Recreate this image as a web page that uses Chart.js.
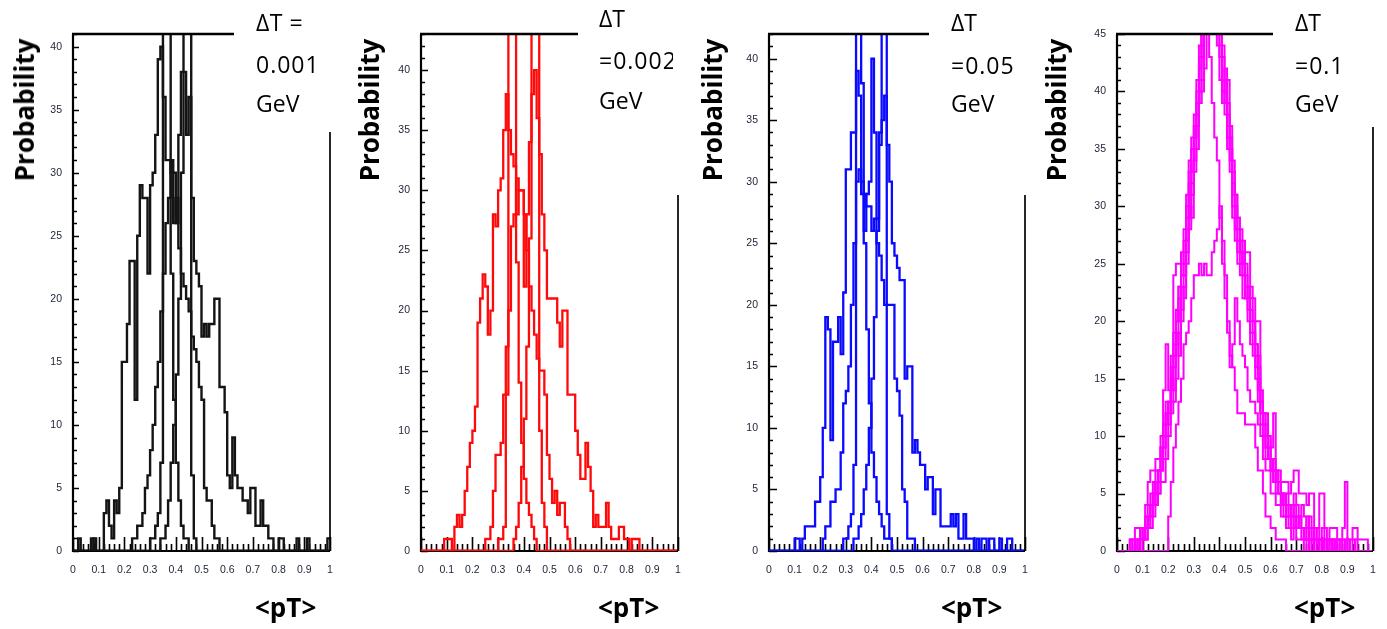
<!DOCTYPE html>
<html>
<head>
<meta charset="utf-8">
<title>&lt;pT&gt; distributions</title>
<script src="https://cdn.jsdelivr.net/npm/chart.js@4.4.1/dist/chart.umd.min.js"></script>
<style>
  html, body { margin:0; padding:0; background:#fff; }
  body { position:relative; width:1387px; height:629px; overflow:hidden; font-family:'Open Sans', sans-serif; }
  canvas { position:absolute; top:0; }
  .ytitle { position:absolute; top:110px; font-weight:700; font-size:26px; line-height:26px; white-space:nowrap;
            transform:translate(-50%,-50%) rotate(-90deg); color:#000; z-index:2; }
  .xtitle { position:absolute; top:589px; font-weight:700; font-size:26px; line-height:36px; white-space:nowrap; color:#000; z-index:2; }
  .note { position:absolute; top:0; height:130px; overflow:hidden; white-space:nowrap; z-index:2; }
  .note div { position:absolute; left:0; font-size:23px; line-height:30px; color:#000; }
</style>
</head>
<body>
<canvas id="c1" width="345" height="629" style="left:0px"></canvas>
<canvas id="c2" width="345" height="629" style="left:345px"></canvas>
<canvas id="c3" width="345" height="629" style="left:690px"></canvas>
<canvas id="c4" width="352" height="629" style="left:1035px"></canvas>

<div class="ytitle" style="left:24px">Probability</div>
<div class="ytitle" style="left:369px">Probability</div>
<div class="ytitle" style="left:712px">Probability</div>
<div class="ytitle" style="left:1056px">Probability</div>

<div class="xtitle" style="left:255px">&lt;pT&gt;</div>
<div class="xtitle" style="left:598px">&lt;pT&gt;</div>
<div class="xtitle" style="left:941px">&lt;pT&gt;</div>
<div class="xtitle" style="left:1294px">&lt;pT&gt;</div>

<div class="note" style="left:256px;width:110px">
  <div style="top:7px;letter-spacing:0.5px">ΔT =</div>
  <div style="top:49px;letter-spacing:1px">0.001</div>
  <div style="top:88px">GeV</div>
</div>
<div class="note" style="left:599px;width:74px">
  <div style="top:3px">ΔT</div>
  <div style="top:45px;letter-spacing:1px">=0.002</div>
  <div style="top:85px">GeV</div>
</div>
<div class="note" style="left:951px;width:90px">
  <div style="top:7px">ΔT</div>
  <div style="top:50px;letter-spacing:1px">=0.05</div>
  <div style="top:88px">GeV</div>
</div>
<div class="note" style="left:1295px;width:90px">
  <div style="top:7px">ΔT</div>
  <div style="top:50px;letter-spacing:1px">=0.1</div>
  <div style="top:88px">GeV</div>
</div>

<script>
// ---------------- data ----------------
const binWidth = 0.01;                       // histogram bin width in <pT>
const xTickLabels = ['0','0.1','0.2','0.3','0.4','0.5','0.6','0.7','0.8','0.9','1'];
const yTickLabels = ['0','5','10','15','20','25','30','35','40','45'];
const deltaT = ['0.001', '0.002', '0.05', '0.1'];
const panelYMax = [41, 43, 42, 45];
const panelColors = ['#141414', '#ff0a0a', '#0a0aff', '#ff00ff'];

// Panel 1 (ΔT = 0.001 GeV), counts per bin, bins 0.00 .. 0.99
const p1WideLeft = [
  0,0,1,0,0,0,0,1,0,0,   0,0,3,4,2,1,4,3,5,15,
  15,18,23,23,12,25,29,28,28,22,  29,30,33,39,40,36,31,31,30,26,
  28,24,22,21,20,19,17,16,15,13,  12,5,4,4,2,1,1,0,0,0,
  0,0,0,0,0,0,0,0,0,0,   0,0,0,0,0,0,0,0,0,0,
  0,0,0,0,0,0,0,0,0,0,   0,0,0,0,0,0,0,0,0,0];
const p1WideRight = [
  0,0,0,0,0,0,0,0,1,0,   0,0,0,0,0,0,0,0,0,0,
  0,0,0,1,1,2,2,3,5,6,   8,10,13,15,19,22,26,28,31,30,
  26,33,38,38,33,36,28,23,22,21,  17,18,17,18,18,20,20,13,13,11,
  6,5,9,6,5,5,4,4,3,5,   5,2,2,4,2,2,1,1,0,0,
  1,1,0,0,0,0,0,1,0,0,   0,1,0,0,0,0,0,0,0,1];
const p1NarrowLeft = [
  0,0,0,0,0,0,0,0,0,0,   0,0,0,0,0,0,0,0,0,0,
  0,0,0,0,0,0,0,0,0,0,   1,1,2,3,7,48,60,50,22,12,
  7,4,2,1,1,0,0,0,0,0,   0,0,0,0,0,0,0,0,0,0,
  0,0,0,0,0,0,0,0,0,0,   0,0,0,0,0,0,0,0,0,0,
  0,0,0,0,0,0,0,0,0,0,   0,0,0,0,0,0,0,0,0,0];
const p1NarrowRight = [
  0,0,0,0,0,0,0,0,0,0,   0,0,0,0,0,0,0,0,0,0,
  0,0,0,0,0,0,0,0,0,0,   0,0,0,0,1,1,2,4,7,10,
  14,20,30,46,58,47,6,1,0,0,  0,0,0,0,0,0,0,0,0,0,
  0,0,0,0,0,0,0,0,0,0,   0,0,0,0,0,0,0,0,0,0,
  0,0,0,0,0,0,0,0,0,0,   0,0,0,0,0,0,0,0,0,0];

// Panel 2 (ΔT = 0.002 GeV)
const p2WideLeft = [
  0,0,0,0,0,0,0,0,0,1,   1,1,0,2,3,2,3,5,7,9,
  10,12,19,21,23,22,18,20,28,27,  30,31,35,38,35,33,32,28,30,30,
  28,25,22,20,18,16,15,15,13,8,   6,4,5,3,4,4,2,1,0,0,
  0,0,0,0,0,0,0,0,0,0,   0,0,0,0,0,0,0,0,0,0,
  0,0,0,0,0,0,0,0,0,0,   0,0,0,0,0,0,0,0,0,0];
const p2WideRight = [
  0,0,0,0,0,0,0,0,0,0,   0,0,0,0,0,0,0,0,0,0,
  0,0,0,0,0,1,1,2,5,8,   8,9,13,17,20,27,28,31,30,30,
  22,28,34,38,40,36,33,28,25,21,  21,21,21,19,17,20,20,13,13,13,
  10,8,6,6,9,7,5,2,3,2,  2,2,4,2,1,1,1,2,2,1,
  1,0,1,1,1,0,0,0,0,0,   0,0,0,0,0,0,0,0,0,0];
const p2NarrowLeft = [
  0,0,0,0,0,0,0,0,0,0,   0,0,0,0,0,0,0,0,0,0,
  0,0,0,0,0,0,0,0,0,0,   1,1,2,13,47,55,48,24,14,9,
  6,4,3,2,1,0,0,0,0,0,   0,0,0,0,0,0,0,0,0,0,
  0,0,0,0,0,0,0,0,0,0,   0,0,0,0,0,0,0,0,0,0,
  0,0,0,0,0,0,0,0,0,0,   0,0,0,0,0,0,0,0,0,0];
const p2NarrowRight = [
  0,0,0,0,0,0,0,0,0,0,   0,0,0,0,0,0,0,0,0,0,
  0,0,0,0,0,0,0,0,0,0,   0,0,0,0,0,0,1,2,4,7,
  11,17,26,46,56,48,10,4,2,0,  0,0,0,0,0,0,0,0,0,0,
  0,0,0,0,0,0,0,0,0,0,   0,0,0,0,0,0,0,0,0,0,
  0,0,0,0,0,0,0,0,0,0,   0,0,0,0,0,0,0,0,0,0];

// Panel 3 (ΔT = 0.05 GeV)
const p3WideLeft = [
  0,0,0,0,0,0,0,0,0,0,   1,1,0,1,2,2,2,2,4,4,
  6,10,19,18,9,17,17,19,16,21,  31,31,34,34,39,37,30,29,28,28,
  26,27,25,24,22,20,20,20,20,14,  13,11,5,4,1,1,1,0,0,0,
  0,0,0,0,0,0,0,0,0,0,   0,0,0,0,0,0,0,0,0,0,
  0,0,0,0,0,0,0,0,0,0,   0,0,0,0,0,0,0,0,0,0];
const p3WideRight = [
  0,0,0,0,0,0,0,0,0,0,   0,0,0,0,0,0,0,0,0,0,
  0,1,2,2,4,4,5,5,8,12,  13,15,20,25,30,31,29,26,29,30,
  40,34,27,34,35,37,33,30,25,24,  23,22,22,14,15,15,8,9,8,7,
  7,5,6,6,3,5,5,2,2,2,   2,3,2,3,1,1,3,1,1,1,
  0,1,0,1,1,0,1,1,0,0,   1,0,0,1,1,0,0,0,0,0];
const p3NarrowLeft = [
  0,0,0,0,0,0,0,0,0,0,   0,0,0,0,0,0,0,0,0,0,
  0,0,0,0,0,0,0,0,0,1,   1,2,3,7,45,55,38,25,18,12,
  8,6,4,3,2,1,1,1,0,0,   0,0,0,0,0,0,0,0,0,0,
  0,0,0,0,0,0,0,0,0,0,   0,0,0,0,0,0,0,0,0,0,
  0,0,0,0,0,0,0,0,0,0,   0,0,0,0,0,0,0,0,0,0];
const p3NarrowRight = [
  0,0,0,0,0,0,0,0,0,0,   0,0,0,0,0,0,0,0,0,0,
  0,0,0,0,0,0,0,0,0,0,   0,0,0,1,1,2,3,5,7,10,
  14,19,26,33,50,48,3,1,0,0,  0,0,0,0,0,0,0,0,0,0,
  0,0,0,0,0,0,0,0,0,0,   0,0,0,0,0,0,0,0,0,0,
  0,0,0,0,0,0,0,0,0,0,   0,0,0,0,0,0,0,0,0,0];

// Panel 4 (ΔT = 0.1 GeV)
const p4SampleA = [
  0,0,0,0,0,1,1,2,2,1,   2,4,6,7,7,8,8,10,14,18,
  14,17,24,25,25,25,28,30,33,36,  38,39,42,47,50,55,52,49,50,47,
  46,41,41,41,37,34,31,29,28,27,  26,26,23,22,20,20,13,12,12,10,
  9,12,7,7,6,6,6,5,6,7,  7,5,5,5,4,5,5,2,2,5,
  5,2,1,2,2,2,1,1,2,6,   1,1,2,2,1,1,1,1,0,0];
const p4SampleB = [
  0,0,0,0,0,0,1,0,1,2,   1,2,3,4,5,5,7,8,9,12,
  13,14,17,20,23,24,25,27,29,33,  35,38,41,44,46,50,48,54,47,49,
  45,44,39,37,34,31,29,28,25,26,  24,22,21,19,18,16,13,11,10,9,
  8,7,6,5,5,4,5,4,3,5,   4,3,4,3,2,3,2,1,2,1,
  2,1,0,1,1,0,1,0,1,0,   1,0,0,1,0,0,0,0,0,0];
const p4SampleC = [
  0,0,0,0,0,0,0,1,0,1,   2,3,2,5,4,7,6,7,8,10,
  12,13,16,18,22,21,24,26,31,32,  36,37,39,41,48,46,53,47,51,46,
  47,40,38,36,35,30,28,26,27,24,  22,23,20,20,16,17,12,12,9,8,
  7,6,7,6,4,5,3,3,4,2,   3,2,2,1,2,1,1,1,0,1,
  0,1,1,0,0,1,0,0,0,0,   0,0,0,0,0,0,0,0,0,0];
const p4SampleD = [
  0,0,0,0,0,1,0,1,1,0,   1,2,4,3,6,4,5,9,11,13,
  11,15,14,19,17,23,22,29,30,29,  33,35,40,43,47,52,46,50,46,44,
  41,39,41,35,33,29,27,25,24,22,  23,20,19,17,15,13,11,10,8,9,
  7,8,6,5,5,3,4,2,3,3,   2,3,1,2,1,1,0,1,1,0,
  1,0,0,0,1,0,0,0,0,0,   0,0,0,0,0,0,0,0,0,0];
const p4SampleE = [
  0,0,0,0,0,0,0,0,0,0,   0,0,0,0,0,0,0,0,0,0,
  3,6,9,11,13,15,18,19,20,22,  24,24,25,24,25,24,24,26,27,28,
  30,25,22,19,16,18,22,20,18,17,  16,14,13,13,12,11,10,8,7,7,
  5,5,4,4,3,3,2,2,1,2,   1,1,1,0,1,0,1,0,0,0,
  0,0,0,0,0,0,0,0,0,0,   0,0,0,0,0,0,0,0,0,0];
const p4SampleF = [
  0,0,0,0,0,0,0,0,0,1,   1,1,2,2,3,4,5,6,6,8,
  10,12,13,15,19,20,23,25,28,31,  34,37,39,40,42,45,43,39,36,34,
  29,27,24,20,17,16,14,12,12,12,  11,11,11,11,9,7,7,5,3,3,
  2,2,1,1,1,1,0,0,0,0,   0,0,0,0,0,0,0,0,0,0,
  0,0,0,0,0,0,0,0,0,0,   0,0,0,0,0,0,0,0,0,0];
const p4SampleG = [
  0,0,0,0,0,0,0,0,1,1,   1,2,2,3,5,6,7,7,9,11,
  12,14,18,21,20,24,27,28,32,35,  37,40,44,49,52,48,56,51,48,52,
  44,43,40,38,36,33,30,29,27,25,  25,23,22,20,18,15,14,12,11,10,
  8,7,7,6,5,4,4,3,3,4,   3,3,2,2,3,2,1,2,1,1,
  1,1,1,0,1,0,0,1,0,0,   0,0,1,0,0,0,0,0,0,0];
const p4SampleH = [
  0,0,0,0,0,0,0,0,0,0,   1,1,3,4,4,6,7,9,10,12,
  13,16,19,20,23,26,26,31,34,33,  36,41,43,46,45,51,49,56,53,47,
  43,41,42,39,35,32,31,27,26,24,  22,21,18,18,17,14,12,11,9,8,
  7,6,5,5,4,4,3,3,2,3,   2,2,2,1,1,2,1,1,0,1,
  1,0,1,1,0,0,0,0,0,1,   0,0,0,0,0,0,0,0,0,0];

// ---------------- drawing ----------------
const tickColor = '#1c2236';
const tickFont = { family: "'Liberation Sans', Arial, sans-serif", size: 10.5 };

// ROOT-style frame: inward tick marks, axes, partial top/right border
const rootFrame = {
  id: 'rootFrame',
  beforeDatasetsDraw(chart, args, o) {
    const { ctx, chartArea: a, scales } = chart;
    const xs = scales.x, ys = scales.y;
    ctx.save();
    ctx.strokeStyle = '#000';
    ctx.lineWidth = 1.6;
    ctx.beginPath();
    for (let k = 0; k <= 50; k++) {
      const px = Math.round(xs.getPixelForValue(k * 0.02)) + 0.5;
      const len = (k % 5 === 0) ? o.xMajor : o.xMinor;
      ctx.moveTo(px, a.bottom);
      ctx.lineTo(px, a.bottom - len);
    }
    for (let v = 0; v <= ys.max; v++) {
      const py = Math.round(ys.getPixelForValue(v)) + 0.5;
      const len = (v % 5 === 0) ? o.yMajor : o.yMinor;
      ctx.moveTo(a.left, py);
      ctx.lineTo(a.left + len, py);
    }
    ctx.stroke();
    ctx.lineWidth = 2.2;
    ctx.beginPath();
    ctx.moveTo(a.left, a.top);
    ctx.lineTo(a.left, a.bottom);
    ctx.lineTo(a.right, a.bottom);
    ctx.stroke();
    ctx.restore();
  },
  afterDatasetsDraw(chart, args, o) {
    const { ctx, chartArea: a } = chart;
    ctx.save();
    ctx.strokeStyle = '#000';
    ctx.lineWidth = 2.6;
    ctx.beginPath();
    ctx.moveTo(a.left - 1, a.top);
    ctx.lineTo(o.topEnd, a.top);
    ctx.stroke();
    ctx.lineWidth = 1.7;
    ctx.beginPath();
    ctx.moveTo(a.right, o.rightStart);
    ctx.lineTo(a.right, a.bottom);
    ctx.stroke();
    ctx.restore();
  }
};

function toSteps(values) {
  const pts = values.map((v, i) => ({ x: i * binWidth, y: v }));
  pts.push({ x: values.length * binWidth, y: values[values.length - 1] });
  return pts;
}

function makePanel(canvasId, series, color, yMax, cfg) {
  return new Chart(document.getElementById(canvasId), {
    type: 'line',
    data: {
      datasets: series.map((s, i) => ({
        label: 'sample ' + (i + 1),
        data: toSteps(s),
        borderColor: color,
        borderWidth: cfg.lineWidth,
        stepped: 'before',
        pointRadius: 0,
        fill: false,
        tension: 0
      }))
    },
    options: {
      responsive: false,
      animation: false,
      devicePixelRatio: 1,
      layout: { padding: { left: 0, top: 34, right: cfg.padRight, bottom: 0 } },
      plugins: {
        legend: { display: false },
        tooltip: { enabled: false },
        rootFrame: cfg.frame
      },
      scales: {
        x: {
          type: 'linear', min: 0, max: 1,
          afterFit: s => { s.height = 78; s.paddingLeft = 0; s.paddingRight = 0; },
          grid: { display: false }, border: { display: false },
          ticks: {
            stepSize: 0.1, autoSkip: false, maxRotation: 0, minRotation: 0, padding: 5,
            color: tickColor, font: tickFont,
            callback: v => xTickLabels[Math.round(v * 10)]
          }
        },
        y: {
          type: 'linear', min: 0, max: yMax,
          afterFit: s => { s.width = cfg.yWidth; s.paddingTop = 0; s.paddingBottom = 0; },
          grid: { display: false }, border: { display: false },
          ticks: {
            stepSize: 5, includeBounds: false, padding: 3,
            color: tickColor, font: tickFont,
            callback: v => yTickLabels[Math.round(v / 5)]
          }
        }
      }
    },
    plugins: [rootFrame]
  });
}

makePanel('c1', [p1WideLeft, p1WideRight, p1NarrowLeft, p1NarrowRight], panelColors[0], panelYMax[0],
  { yWidth: 73, padRight: 15, lineWidth: 2.4, frame: { topEnd: 234, rightStart: 132, xMajor: 14, xMinor: 7, yMajor: 6, yMinor: 4 } });
makePanel('c2', [p2WideLeft, p2WideRight, p2NarrowLeft, p2NarrowRight], panelColors[1], panelYMax[1],
  { yWidth: 76, padRight: 12, lineWidth: 2.3, frame: { topEnd: 233, rightStart: 195, xMajor: 14, xMinor: 7, yMajor: 7, yMinor: 4 } });
makePanel('c3', [p3WideLeft, p3WideRight, p3NarrowLeft, p3NarrowRight], panelColors[2], panelYMax[2],
  { yWidth: 79, padRight: 10, lineWidth: 2.3, frame: { topEnd: 239, rightStart: 195, xMajor: 14, xMinor: 7, yMajor: 8, yMinor: 4 } });
makePanel('c4', [p4SampleA, p4SampleB, p4SampleC, p4SampleD, p4SampleE, p4SampleF, p4SampleG, p4SampleH], panelColors[3], panelYMax[3],
  { yWidth: 82, padRight: 14, lineWidth: 2.0, frame: { topEnd: 238, rightStart: 127, xMajor: 14, xMinor: 7, yMajor: 8, yMinor: 4 } });
</script>
</body>
</html>
